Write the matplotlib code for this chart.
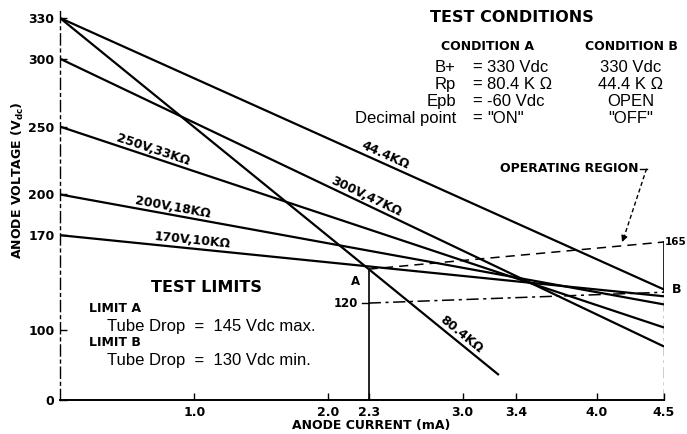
import numpy as np
import matplotlib
matplotlib.use('Agg')
import matplotlib.pyplot as plt

# load lines: start voltage at 0 mA, end point
line_labels = ['44.4KΩ', '80.4KΩ', '300V,47KΩ', '250V,33KΩ', '200V,18KΩ', '170V,10KΩ']
start_v = [330, 330, 300, 250, 200, 170]
end_i = [4.5, 3.27, 4.5, 4.5, 4.5, 4.5]
end_v = [130, 67, 88, 102, 119, 125]
label_i = [2.40, 2.96, 2.26, 0.68, 0.83, 0.98]

x_ticks = [1.0, 2.0, 2.3, 3.0, 3.4, 4.0, 4.5]
x_tick_labels = ['1.0', '2.0', '2.3', '3.0', '3.4', '4.0', '4.5']
y_ticks = [0, 100, 170, 200, 250, 300, 330]

# operating region corners (mA, V)
point_a = (2.3, 145)
point_b = (4.5, 130)
region_top = [(2.3, 145), (4.5, 165)]
region_bottom = [(2.3, 120), (4.5, 128)]

BOLD = 'DejaVu Sans'
REG = ['Liberation Sans', 'DejaVu Sans']


def fwd(v):
    v = np.asarray(v, dtype=float)
    return np.where(v >= 60, v, 60 - (60 - v) * 0.19)


def inv(u):
    u = np.asarray(u, dtype=float)
    return np.where(u >= 60, u, 60 - (60 - u) / 0.19)


W, H = 687, 434
fig = plt.figure(figsize=(W / 100, H / 100), dpi=100)
ax = fig.add_axes([60 / W, 1 - 400 / H, 604 / W, 388.8 / H])
ax.set_yscale('function', functions=(fwd, inv))
ax.set_xlim(0, 4.5)
ax.set_ylim(0, 335)

for v0, i1, v1 in zip(start_v, end_i, end_v):
    ax.plot([0, i1], [v0, v1], color='black', lw=1.6, solid_capstyle='butt')

for lab, v0, i1, v1, li in zip(line_labels, start_v, end_i, end_v, label_i):
    vv = v0 + (v1 - v0) * li / i1
    ang = np.degrees(np.arctan2(v1 - v0, i1))
    ax.text(li, vv + 1, lab, rotation=ang, transform_rotates_text=True,
            rotation_mode='anchor', ha='center', va='bottom',
            fontsize=9, fontweight='bold', family=BOLD)

# operating region
ax.plot([2.3, 2.3], [0, point_a[1]], color='black', lw=1.2)
ax.plot(*zip(*region_top), color='black', lw=1.1, ls=(0, (6, 4)))
ax.plot(*zip(*region_bottom), color='black', lw=1.1, ls=(0, (8, 3, 2, 3)))
ax.plot([4.5, 4.5], [128, 165], color='black', lw=1.2)
ax.plot([4.5, 4.5], [0, 128], color='black', lw=1.0, ls=(0, (8, 3, 2, 3)))
ax.plot([2.25, 2.3], [120, 120], color='black', lw=1.0)

ax.text(2.22, 120, '120', ha='right', va='center', fontsize=8.5,
        fontweight='bold', family=BOLD)
ax.text(4.508, 165, '165', ha='left', va='center', fontsize=7.5,
        fontweight='bold', family=BOLD)
ax.text(2.2, 141, 'A', ha='center', va='top', fontsize=8.5,
        fontweight='bold', family=BOLD)
ax.text(4.56, point_b[1], 'B', ha='left', va='center', fontsize=9,
        fontweight='bold', family=BOLD)

# operating region leader
ax.text(4.31, 219, 'OPERATING REGION', ha='right', va='center', fontsize=9,
        fontweight='bold', family=BOLD)
ax.plot([4.32, 4.37], [219, 219], color='black', lw=1.0)
ax.plot([4.37, 4.21], [219, 171], color='black', lw=1.0, ls=(0, (3, 2)))
ax.annotate('', xy=(4.18, 163), xytext=(4.215, 172),
            arrowprops=dict(arrowstyle='-|>', color='black', lw=1.0,
                            mutation_scale=9))

# axes styling
for s in ['top', 'right']:
    ax.spines[s].set_visible(False)
ax.spines['left'].set_linestyle((0, (8, 3, 2, 3)))
ax.spines['left'].set_linewidth(1.0)
ax.spines['bottom'].set_linewidth(1.4)
ax.set_xticks(x_ticks)
ax.set_xticklabels(x_tick_labels)
ax.set_yticks(y_ticks)
ax.set_yticklabels([str(v) for v in y_ticks])
ax.yaxis.set_minor_locator(matplotlib.ticker.NullLocator())
ax.tick_params(direction='in', length=5, width=1.0, labelsize=9, pad=4)
for t in ax.get_xticklabels() + ax.get_yticklabels():
    t.set_fontweight('bold')
    t.set_family(BOLD)

fig.text(18 / W, 1 - 180 / H, 'ANODE VOLTAGE (V$_{\\mathbf{dc}}$)', rotation=90,
         ha='center', va='center', fontsize=9, fontweight='bold', family=BOLD)
fig.text(371 / W, 1 - 426 / H, 'ANODE CURRENT (mA)', ha='center', va='center',
         fontsize=9, fontweight='bold', family=BOLD)


def ft(x, y, s, va='center', **kw):
    fig.text(x / W, 1 - y / H, s, va=va, **kw)


# test conditions block
ft(512, 18, 'TEST CONDITIONS', ha='center', fontsize=11.5, fontweight='bold', family=BOLD)
ft(488, 47, 'CONDITION A', ha='center', fontsize=9, fontweight='bold', family=BOLD)
ft(631, 47, 'CONDITION B', ha='center', fontsize=9, fontweight='bold', family=BOLD)
rows_left = ['B+', 'Rp', 'Epb', 'Decimal point']
rows_a = ['330 Vdc', '80.4 K Ω', '-60 Vdc', '"ON"']
rows_b = ['330 Vdc', '44.4 K Ω', 'OPEN', '"OFF"']
for k, (l, a, b) in enumerate(zip(rows_left, rows_a, rows_b)):
    y = 72 + k * 17
    ft(456, y, l, va='baseline', ha='right', fontsize=12, family=REG)
    ft(477, y, '=', va='baseline', ha='center', fontsize=12, family=REG)
    ft(487, y, a, va='baseline', ha='left', fontsize=12, family=REG)
    ft(631, y, b, va='baseline', ha='center', fontsize=12, family=REG)

# test limits block
ft(206, 287, 'TEST LIMITS', ha='center', fontsize=11.5, fontweight='bold', family=BOLD)
ft(89, 309, 'LIMIT A', ha='left', fontsize=9, fontweight='bold', family=BOLD)
ft(107, 331, 'Tube Drop  =  145 Vdc max.', va='baseline', ha='left', fontsize=12, family=REG)
ft(89, 343, 'LIMIT B', ha='left', fontsize=9, fontweight='bold', family=BOLD)
ft(107, 365, 'Tube Drop  =  130 Vdc min.', va='baseline', ha='left', fontsize=12, family=REG)

fig.savefig('out.png', dpi=100)
